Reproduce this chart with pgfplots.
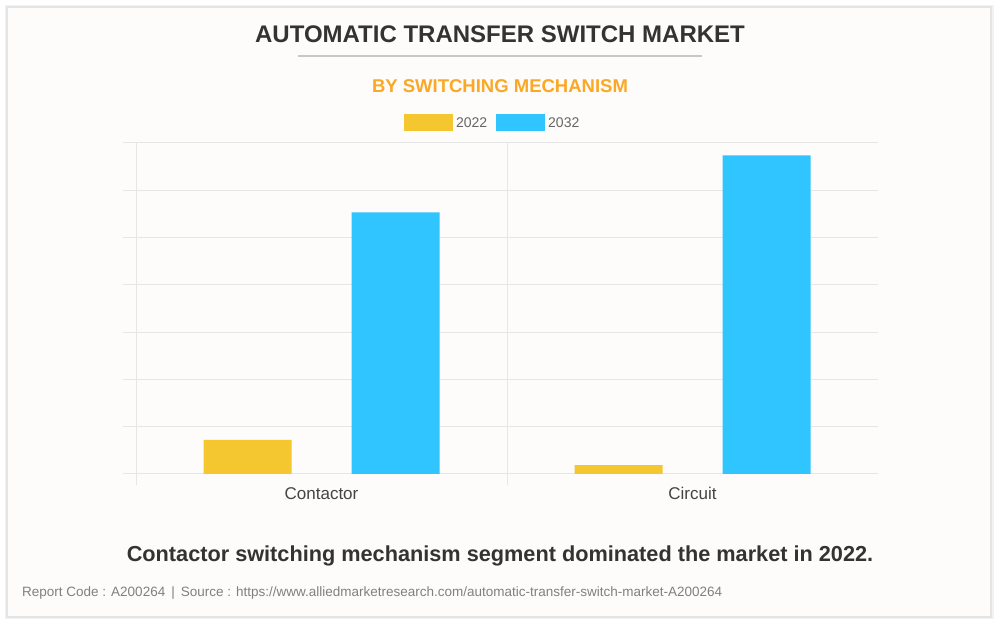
\documentclass[border=0pt]{standalone}
\usepackage{fontspec}
\setmainfont{Liberation Sans}
\usepackage{pgfplots}
\pgfplotsset{compat=1.18}
\definecolor{cardbg}{RGB}{253,252,250}
\definecolor{cardborder}{RGB}{228,228,228}
\definecolor{gridgray}{RGB}{230,230,230}
\definecolor{titlecol}{RGB}{51,51,51}
\definecolor{subcol}{RGB}{250,168,37}
\definecolor{yel}{RGB}{244,198,48}
\definecolor{cyanbar}{RGB}{48,197,255}
\definecolor{labgray}{RGB}{68,68,68}
\definecolor{leggray}{RGB}{102,102,102}
\definecolor{footgray}{RGB}{128,128,128}
\pgfplotsset{mylegend/.style={legend image code/.code={\fill[##1] (0bp,-8.5bp) rectangle (49bp,8.5bp);}}}
\begin{document}
\begin{tikzpicture}[x=1bp,y=1bp]
\useasboundingbox (0,0) rectangle (996,624);
\fill[white] (0,0) rectangle (996,624);
\fill[black!5] (5,5) rectangle (994,619);
\fill[cardbg, draw=cardborder, line width=1.2bp] (7,7) rectangle (991,617);
\node[font=\fontsize{24bp}{28bp}\selectfont\bfseries, text=titlecol] at (500,590) {AUTOMATIC TRANSFER SWITCH MARKET};
\draw[black!22, line width=1.2bp] (298,568) -- (702,568);
\node[font=\fontsize{18.5bp}{22bp}\selectfont\bfseries, text=subcol] at (500,538) {BY SWITCHING MECHANISM};
\begin{axis}[at={(136bp,150bp)}, anchor=south west, width=742bp, height=331bp, scale only axis,
  ybar, bar width=88bp,
  xmin=0, xmax=2, ymin=0, ymax=7,
  axis line style={draw=none},
  ytick={0,1,2,3,4,5,6,7}, yticklabels={},
  ymajorgrids, grid style={draw=gridgray, line width=1bp},
  ytick pos=left, xtick pos=bottom, tick align=outside,
  ytick style={draw=gridgray, line width=1bp},
  major tick length=13bp,
  xtick={0.5,1.5}, xticklabels={Contactor,Circuit},
  xtick style={draw=none},
  xticklabel style={font=\fontsize{17bp}{20bp}\selectfont, text=labgray, yshift=3bp},
  extra x ticks={0,1}, extra x tick labels={},
  extra x tick style={grid=major, xtick style={draw=gridgray, line width=1bp}, major tick length=11bp},
  legend style={at={(axis description cs:0.361,1.0604)}, anchor=west, draw=none, fill=none, inner sep=0pt,
    font=\fontsize{14bp}{16bp}\selectfont, text=leggray, legend columns=2,
    /tikz/every even column/.append style={column sep=6bp},
    nodes={inner sep=3bp}},
]
\addplot[fill=yel, draw=none, bar shift=-74bp, mylegend] coordinates {(0.5,0.72) (1.5,0.19)};
\addplot[fill=cyanbar, draw=none, bar shift=74bp, mylegend] coordinates {(0.5,5.53) (1.5,6.74)};
\legend{2022,2032}
\end{axis}
\node[font=\fontsize{21.7bp}{25bp}\selectfont\bfseries, text=titlecol] at (500,68) {Contactor switching mechanism segment dominated the market in 2022.};
\node[anchor=west, inner sep=0pt, font=\fontsize{13.5bp}{16bp}\selectfont, text=footgray] at (22,31) {Report Code : A200264 \,|\, Source : https://www.alliedmarketresearch.com/automatic-transfer-switch-market-A200264};
\end{tikzpicture}
\end{document}
